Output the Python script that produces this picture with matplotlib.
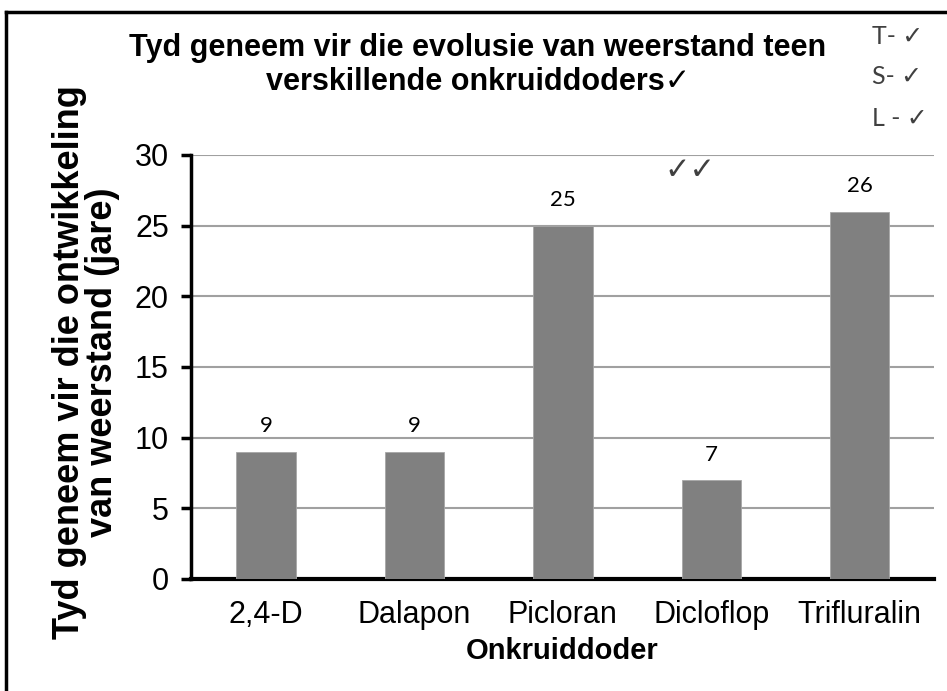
import matplotlib.pyplot as plt
import numpy as np

onkruiddoders = ["2,4-D", "Dalapon", "Picloran", "Dicloflop", "Trifluralin"]
jare = [9, 9, 25, 7, 26]
y_ticks = [0, 5, 10, 15, 20, 25, 30]

plt.rcParams['font.family'] = ['Liberation Sans', 'DejaVu Sans']

fig = plt.figure(figsize=(9.47, 6.91), dpi=100)
ax = fig.add_axes([191 / 947, 112 / 691, 743 / 947, 424 / 691])

x = np.arange(len(onkruiddoders))
ax.bar(x, jare, width=0.4, color='#808080', edgecolor='#a6a6a6', linewidth=0.6, zorder=3)

# waardes bo die stawe
for xi, v in zip(x, jare):
    ax.text(xi, v + 1.1, str(v), ha='center', va='bottom', fontsize=16,
            family=['Lato', 'DejaVu Sans'], color='black')

ax.set_xlim(-0.505, 4.5)
ax.set_ylim(0, 30)
ax.set_yticks(y_ticks)
ax.set_xticks(x)
ax.set_xticklabels(onkruiddoders, fontsize=22)
ax.tick_params(axis='y', labelsize=22, width=2.5, length=7, pad=9)
ax.tick_params(axis='x', length=0, pad=15)
ax.yaxis.grid(True, color='#a0a0a0', linewidth=1.5, zorder=0)
ax.set_axisbelow(True)
for s in ['top', 'right']:
    ax.spines[s].set_visible(False)
ax.spines['left'].set_linewidth(2.5)
ax.spines['bottom'].set_linewidth(3)

ax.set_xlabel("Onkruiddoder", fontsize=21, fontweight='bold', labelpad=5)
fig.text(86 / 947, 1 - 362 / 691,
         "Tyd geneem vir die ontwikkeling\nvan weerstand (jare)",
         rotation=90, ha='center', va='center', fontsize=26, fontweight='bold',
         linespacing=0.95)

fig.text(478 / 947, 1 - 65 / 691,
         "Tyd geneem vir die evolusie van weerstand teen\nverskillende onkruiddoders\u2713",
         ha='center', va='center', fontsize=22, fontweight='bold', linespacing=1.15)

# nasienmerke
fig.text(690 / 947, 1 - 171 / 691, "\u2713\u2713", ha='center', va='center',
         fontsize=22, color='#404040', family=['DejaVu Sans'])
for yy, t in zip([36, 76, 118], ["T- \u2713", "S- \u2713", "L - \u2713"]):
    fig.text(872 / 947, 1 - yy / 691, t, ha='left', va='center', fontsize=18,
             color='#404040', family=['Lato', 'DejaVu Sans'])

# raam
fig.add_artist(plt.Line2D([6 / 947, 6 / 947], [0, 1 - 12 / 691], color='black',
                          linewidth=2.5, transform=fig.transFigure))
fig.add_artist(plt.Line2D([6 / 947, 1], [1 - 12 / 691, 1 - 12 / 691], color='black',
                          linewidth=2.5, transform=fig.transFigure))

fig.savefig("out.png", dpi=100)
